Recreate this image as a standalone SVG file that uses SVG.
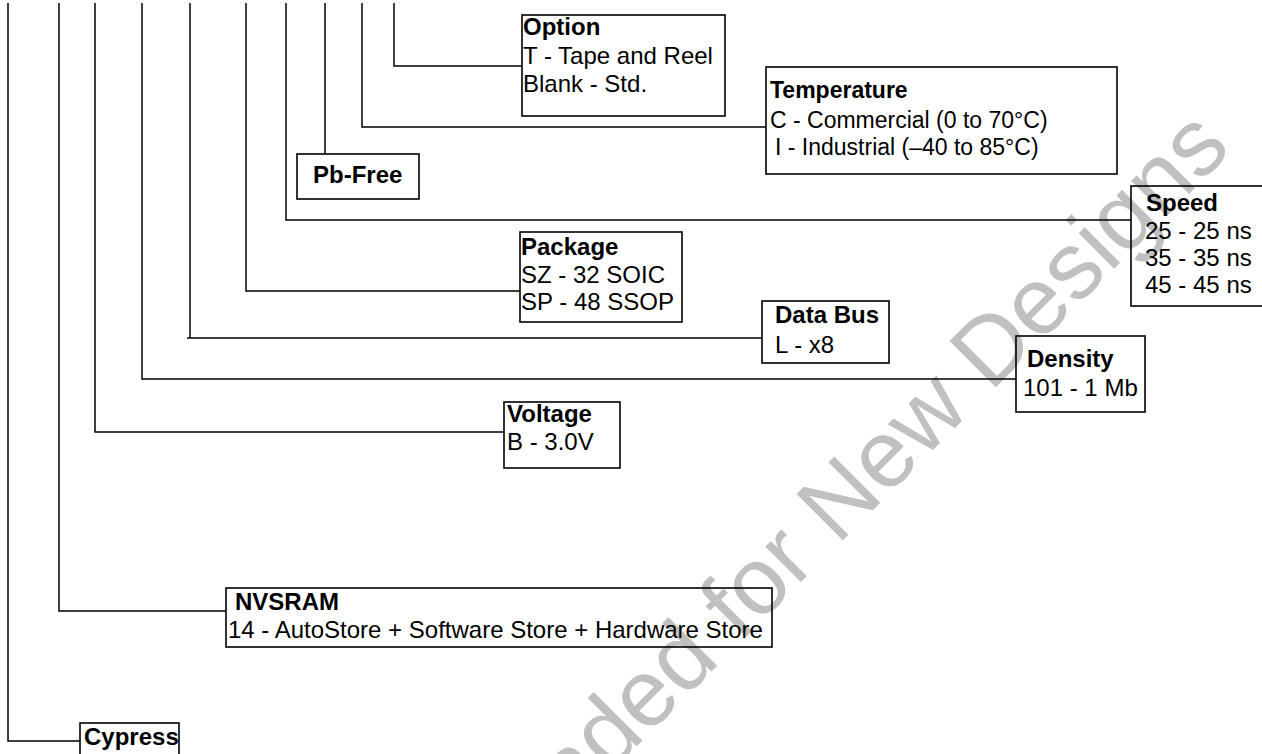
<svg xmlns="http://www.w3.org/2000/svg" width="1262" height="754" viewBox="0 0 1262 754">
<style>
.wm{font-family:"Liberation Sans",Arial,sans-serif;font-size:95px;fill:#c0c0c0}
.box{fill:none;stroke:#000;stroke-width:1.6}
.ln{fill:none;stroke:#000;stroke-width:1.5}
.h{font-family:"Liberation Sans",Arial,sans-serif;font-size:24px;font-weight:bold;fill:#000}
.t{font-family:"Liberation Sans",Arial,sans-serif;font-size:24px;fill:#000}
.s23{font-size:23px}
</style>
<rect width="1262" height="754" fill="#fff"/>
<text class="wm" x="1233" y="150" text-anchor="end" transform="rotate(-45 1233 150)">Not Recommended for New Designs</text>
<g id="connectors">
<path class="ln" d="M394 3V66H522"/>
<path class="ln" d="M362 3V127H766"/>
<path class="ln" d="M325 3V154"/>
<path class="ln" d="M286 3V220H1131"/>
<path class="ln" d="M246 3V291H520"/>
<path class="ln" d="M190 3V338M187 338H762"/>
<path class="ln" d="M142 3V379H1016"/>
<path class="ln" d="M95 3V432H504"/>
<path class="ln" d="M59 3V611H226"/>
<path class="ln" d="M8 3V741H80"/>
</g>
<g id="option">
<rect class="box" x="522" y="15" width="203" height="101"/>
<text class="h" x="523" y="35">Option</text>
<text class="t" x="523" y="64">T - Tape and Reel</text>
<text class="t" x="523" y="92">Blank - Std.</text>
</g>
<g id="temperature">
<rect class="box" x="766" y="67" width="351" height="107"/>
<text class="h s23" x="770" y="98">Temperature</text>
<text class="t s23" x="770" y="128">C - Commercial (0 to 70°C)</text>
<text class="t s23" x="775" y="155">I - Industrial (–40 to 85°C)</text>
</g>
<g id="pbfree">
<rect class="box" x="297" y="154" width="122" height="45"/>
<text class="h" x="313" y="183">Pb-Free</text>
</g>
<g id="speed">
<rect class="box" x="1131" y="186" width="140" height="120"/>
<text class="h" x="1146" y="211">Speed</text>
<text class="t" x="1145" y="239">25 - 25 ns</text>
<text class="t" x="1145" y="266">35 - 35 ns</text>
<text class="t" x="1145" y="293">45 - 45 ns</text>
</g>
<g id="package">
<rect class="box" x="520" y="232" width="162" height="90"/>
<text class="h" x="521" y="255">Package</text>
<text class="t" x="521" y="283">SZ - 32 SOIC</text>
<text class="t" x="521" y="310">SP - 48 SSOP</text>
</g>
<g id="databus">
<rect class="box" x="762" y="301" width="127" height="62"/>
<text class="h" x="775" y="323">Data Bus</text>
<text class="t" x="775" y="353">L - x8</text>
</g>
<g id="density">
<rect class="box" x="1016" y="336" width="129" height="76"/>
<text class="h" x="1027" y="367">Density</text>
<text class="t" x="1023" y="396">101 - 1 Mb</text>
</g>
<g id="voltage">
<rect class="box" x="504" y="402" width="116" height="66"/>
<text class="h" x="507" y="422">Voltage</text>
<text class="t" x="507" y="450">B - 3.0V</text>
</g>
<g id="nvsram">
<rect class="box" x="226" y="588" width="546" height="59"/>
<text class="h" x="235" y="610">NVSRAM</text>
<text class="t" x="228" y="638">14 - AutoStore + Software Store + Hardware Store</text>
</g>
<g id="cypress">
<rect class="box" x="80" y="723" width="99" height="40"/>
<text class="h" x="84" y="745">Cypress</text>
</g>
</svg>
